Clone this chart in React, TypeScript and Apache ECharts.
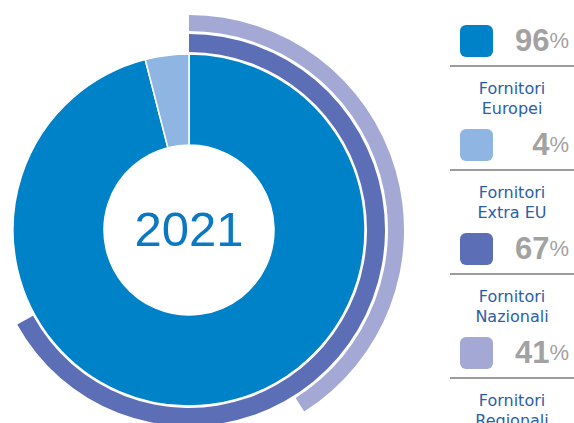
import React, { useEffect, useRef } from "react";
import * as echarts from "echarts";

const categories = ["Fornitori Europei", "Fornitori Extra EU", "Fornitori Nazionali", "Fornitori Regionali"];
const labelLines = [["Fornitori", "Europei"], ["Fornitori", "Extra EU"], ["Fornitori", "Nazionali"], ["Fornitori", "Regionali"]];
const values = [96, 4, 67, 41];
const colors = ["#0082c8", "#8fb5e2", "#5c6fb6", "#a3a8d5"];
const yearLabel = "2021";

export default function App() {
  const ref = useRef<HTMLDivElement>(null);
  useEffect(() => {
    if (!ref.current) return;
    const chart = echarts.init(ref.current, null, { renderer: "svg" });
    const cx = 189;
    const cy = 230;
    const legendGraphics: any[] = [];
    categories.forEach((_, i) => {
      const top = 25 + i * 104;
      legendGraphics.push({
        type: "rect",
        shape: { x: 460, y: top, width: 33, height: 32, r: 6 },
        style: { fill: colors[i] },
      });
      legendGraphics.push({
        type: "text",
        x: 569,
        y: top + 31,
        style: {
          text: `{n|${values[i]}}{p|%}`,
          align: "right",
          verticalAlign: "bottom",
          rich: {
            n: { fontSize: 31, fontWeight: "bold", fill: "#a2a2a2", fontFamily: "Liberation Sans, Arial, sans-serif" },
            p: { fontSize: 22, fill: "#a2a2a2", fontFamily: "Liberation Sans, Arial, sans-serif" },
          },
        },
      });
      legendGraphics.push({
        type: "line",
        shape: { x1: 450, y1: top + 41, x2: 574, y2: top + 41 },
        style: { stroke: "#9c9c9c", lineWidth: 2 },
      });
      labelLines[i].forEach((t, j) => {
        legendGraphics.push({
          type: "text",
          x: 512,
          y: top + 63 + j * 20,
          style: {
            text: t,
            align: "center",
            verticalAlign: "middle",
            fontSize: 16,
            fill: "#2a5ea8",
            fontFamily: "DejaVu Sans, sans-serif",
          },
        });
      });
    });

    chart.setOption({
      animation: false,
      backgroundColor: "#ffffff",
      series: [
        {
          type: "pie",
          center: [cx, cy],
          radius: [85, 176],
          startAngle: 90,
          clockwise: true,
          silent: true,
          label: { show: false },
          labelLine: { show: false },
          itemStyle: { borderColor: "#ffffff", borderWidth: 1.5 },
          data: [
            { name: categories[0], value: values[0], itemStyle: { color: colors[0] } },
            { name: categories[1], value: values[1], itemStyle: { color: colors[1] } },
          ],
        },
        {
          type: "pie",
          center: [cx, cy],
          radius: [178, 196],
          startAngle: 90,
          clockwise: true,
          silent: true,
          label: { show: false },
          labelLine: { show: false },
          data: [
            { name: categories[2], value: values[2], itemStyle: { color: colors[2] } },
            { name: "rest", value: 100 - values[2], itemStyle: { color: "transparent" } },
          ],
        },
        {
          type: "pie",
          center: [cx, cy],
          radius: [199, 215],
          startAngle: 90,
          clockwise: true,
          silent: true,
          label: { show: false },
          labelLine: { show: false },
          data: [
            { name: categories[3], value: values[3], itemStyle: { color: colors[3] } },
            { name: "rest", value: 100 - values[3], itemStyle: { color: "transparent" } },
          ],
        },
      ],
      graphic: [
        {
          type: "text",
          x: 189,
          y: 229,
          style: {
            text: yearLabel,
            align: "center",
            verticalAlign: "middle",
            fontSize: 49,
            fill: "#0a78c2",
            fontFamily: "Liberation Sans, Arial, sans-serif",
          },
        },
        ...legendGraphics,
      ],
    });
    return () => chart.dispose();
  }, []);
  return (
    <div
      ref={ref}
      style={{ position: "fixed", left: 0, top: 0, width: 574, height: 423 }}
    />
  );
}
